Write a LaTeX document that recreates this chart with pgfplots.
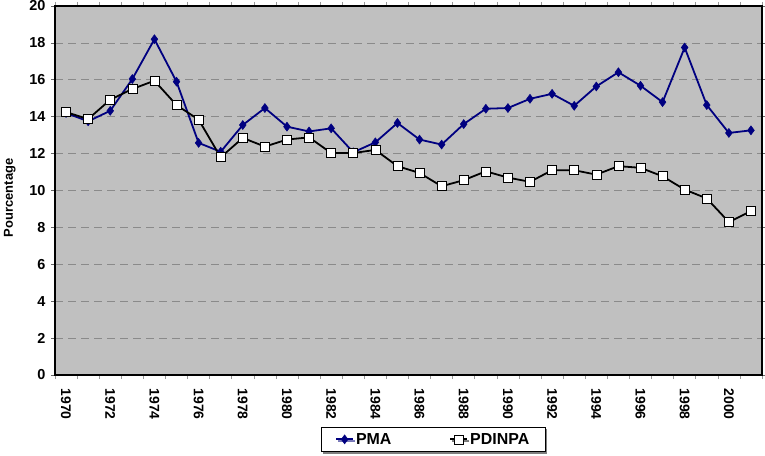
\documentclass[border=0pt]{standalone}
\usepackage{pgfplots}
\pgfplotsset{compat=1.18}
\usepackage{fontspec}
\setmainfont{Liberation Sans}
\usetikzlibrary{calc,shadows}
\definecolor{bgray}{HTML}{C0C0C0}
\definecolor{gridg}{HTML}{8A8A8A}
\definecolor{navyb}{HTML}{000080}
\begin{document}
\begin{tikzpicture}
\begin{axis}[
  scale only axis,
  width=707bp, height=369bp,
  xmin=1969.5, xmax=2001.5,
  ymin=0, ymax=20,
  axis background/.style={fill=bgray},
  axis line style={line width=1.5pt,black},
  xtick={1970,1972,...,2000},
  minor xtick={1969.5,1970.5,...,2001.5},
  ytick={0,2,...,20},
  tick align=outside,
  major x tick style={draw=none},
  minor x tick style={black!40,line width=0.6pt},
  minor tick length=4bp,
  major tick length=4bp,
  y tick style={black!60,line width=0.6pt},
  ymajorgrids,
  major grid style={dashed,gridg,line width=0.7pt,dash pattern=on 8bp off 5bp},
  /pgf/number format/assume math mode=true,
  xticklabel={\pgfmathprintnumber[1000 sep={},assume math mode=true]{\tick}},
  xticklabel style={rotate=-90,anchor=west,font=\bfseries\fontsize{14}{16}\selectfont,xshift=6bp},
  yticklabel style={font=\bfseries\fontsize{14.5}{17}\selectfont,xshift=-2bp},
  ylabel={Pourcentage},
  every axis y label/.style={at={(axis description cs:-0.064,0.48)},rotate=90,anchor=center,font=\bfseries\fontsize{13}{15}\selectfont},
  legend columns=2,
  legend style={at={(axis description cs:0.535,-0.14)},anchor=north,
    draw=black,line width=1pt,fill=white,
    drop shadow={shadow xshift=2bp,shadow yshift=-2bp,fill=black},
    font=\bfseries\fontsize{16}{18}\selectfont,
    /tikz/every even column/.append style={column sep=56bp},
    inner xsep=14bp, inner ysep=4bp},
  clip=false,
]
\addplot[navyb,line width=1.8pt,mark=diamond*,mark size=4.5bp,mark options={fill=navyb,draw=navyb,line width=0.5pt}]
 coordinates {
 (1970,14.2) (1971,13.75) (1972,14.32) (1973,16.04) (1974,18.2) (1975,15.9)
 (1976,12.58) (1977,12.1) (1978,13.55) (1979,14.47) (1980,13.46) (1981,13.2)
 (1982,13.37) (1983,12.07) (1984,12.61) (1985,13.66) (1986,12.76) (1987,12.49)
 (1988,13.6) (1989,14.43) (1990,14.47) (1991,14.97) (1992,15.24) (1993,14.59)
 (1994,15.64) (1995,16.41) (1996,15.68) (1997,14.79) (1998,17.75) (1999,14.63)
 (2000,13.12) (2001,13.26)
 };
\addlegendentry{PMA}
\addplot[black,line width=1.8pt,mark=square*,mark size=4.5bp,mark options={fill=white,draw=black,line width=0.6pt}]
 coordinates {
 (1970,14.25) (1971,13.87) (1972,14.92) (1973,15.5) (1974,15.95) (1975,14.63)
 (1976,13.84) (1977,11.8) (1978,12.85) (1979,12.38) (1980,12.76) (1981,12.88)
 (1982,12.03) (1983,12.03) (1984,12.2) (1985,11.32) (1986,10.95) (1987,10.23)
 (1988,10.56) (1989,11.04) (1990,10.7) (1991,10.47) (1992,11.1) (1993,11.1)
 (1994,10.86) (1995,11.32) (1996,11.23) (1997,10.77) (1998,10.05) (1999,9.57)
 (2000,8.29) (2001,8.88)
 };
\addlegendentry{PDINPA}
\end{axis}
\pgfresetboundingbox
\path ($(current axis.south west)+(-55bp,-81bp)$) rectangle ($(current axis.north east)+(3bp,6bp)$);
\end{tikzpicture}
\end{document}
